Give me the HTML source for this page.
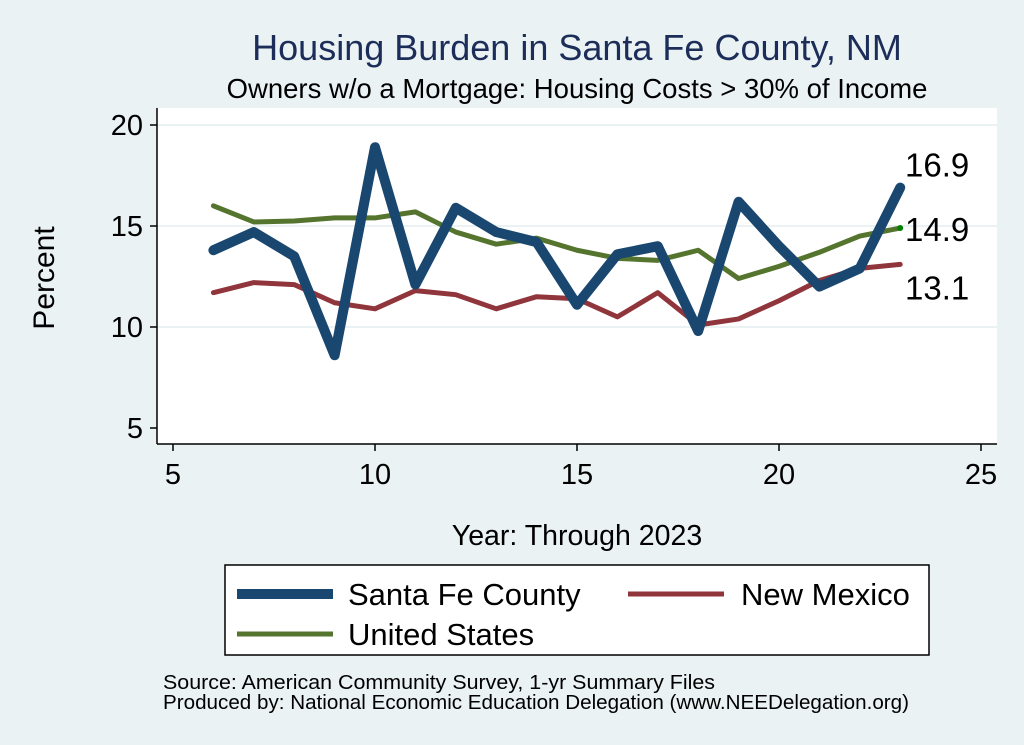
<!DOCTYPE html>
<html><head><meta charset="utf-8"><style>
body{margin:0;background:#eaf2f3;}
svg{display:block;font-family:"Liberation Sans",Arial,sans-serif;}
</style></head><body>
<svg id="chart" width="1024" height="745">
<rect width="1024" height="745" fill="#eaf2f3"/>
<text x="577" y="60" text-anchor="middle" font-size="36" fill="#1c2d59">Housing Burden in Santa Fe County, NM</text>
<text x="577" y="98" text-anchor="middle" font-size="27.5" fill="#000">Owners w/o a Mortgage: Housing Costs &gt; 30% of Income</text>
<rect x="157" y="108" width="840" height="336" fill="#fff"/>
<g id="grid"></g><g id="axes"></g><g id="series"></g><g id="labels"></g>
<text transform="translate(54,278) rotate(-90)" text-anchor="middle" font-size="30">Percent</text>
<text x="577" y="545" text-anchor="middle" font-size="28.5">Year: Through 2023</text>
<g>
<rect x="225" y="565" width="704" height="90" fill="#fff" stroke="#000" stroke-width="1.5"/>
<line x1="237" y1="594" x2="333" y2="594" stroke="#1a476f" stroke-width="10"/>
<text x="348" y="605" font-size="31">Santa Fe County</text>
<line x1="628" y1="594" x2="724" y2="594" stroke="#90353b" stroke-width="5"/>
<text x="741" y="605" font-size="31">New Mexico</text>
<line x1="237" y1="634" x2="333" y2="634" stroke="#55752f" stroke-width="5"/>
<text x="348" y="645" font-size="31">United States</text>
</g>
<text x="163" y="689" font-size="20.5" textLength="552" lengthAdjust="spacingAndGlyphs">Source: American Community Survey, 1-yr Summary Files</text>
<text x="163" y="709" font-size="20.5" textLength="746" lengthAdjust="spacingAndGlyphs">Produced by: National Economic Education Delegation (www.NEEDelegation.org)</text>
</svg>
<script>
const years=[6,7,8,9,10,11,12,13,14,15,16,17,18,19,20,21,22,23];
const santaFe=[13.8,14.7,13.5,8.6,18.9,12.1,15.9,14.7,14.2,11.1,13.6,14.0,9.8,16.2,14.0,12.0,12.9,16.9];
const newMexico=[11.7,12.2,12.1,11.2,10.9,11.8,11.6,10.9,11.5,11.4,10.5,11.7,10.1,10.4,11.3,12.3,12.9,13.1];
const unitedStates=[16.0,15.2,15.25,15.4,15.4,15.7,14.7,14.1,14.4,13.8,13.4,13.3,13.8,12.4,13.0,13.7,14.5,14.9];
const xTicks=[5,10,15,20,25];
const yTicks=[5,10,15,20];
const endLabels=["16.9","14.9","13.1"];
const NS="http://www.w3.org/2000/svg";
const xs=v=>173+(v-5)*(981-173)/20;
const ys=v=>428-(v-5)*(428-125)/15;
function mk(t,a,p){const e=document.createElementNS(NS,t);for(const k in a)e.setAttribute(k,a[k]);p.appendChild(e);return e;}
const grid=document.getElementById('grid'),axes=document.getElementById('axes'),ser=document.getElementById('series'),lab=document.getElementById('labels');
yTicks.forEach(v=>{
 if(v>5){const g=mk('line',{x1:157,x2:997,y1:ys(v),y2:ys(v),stroke:'#eaf2f3','stroke-width':2},grid);
 
 }
 const t=mk('line',{x1:150,x2:157,y1:ys(v),y2:ys(v),stroke:'#000','stroke-width':1.5},axes);
 
 
 const l=mk('text',{x:143,y:ys(v)+10,'text-anchor':'end','font-size':29},axes);l.textContent=v;
 
 
});
xTicks.forEach(v=>{
 const t=mk('line',{x1:xs(v),x2:xs(v),y1:444,y2:451,stroke:'#000','stroke-width':1.5},axes);
 
 
 const l=mk('text',{x:xs(v),y:484,'text-anchor':'middle','font-size':29},axes);l.textContent=v;
 
 
});
const ya=mk('line',{x1:157,x2:157,y1:108,y2:444,stroke:'#000','stroke-width':1.5},axes);


const xa=mk('line',{x1:157,x2:997,y1:444,y2:444,stroke:'#000','stroke-width':1.5},axes);


function line(vals,col,w,name){
 const d=vals.map((v,i)=>(i?'L':'M')+xs(years[i])+','+ys(v)).join(' ');
 const p=mk('path',{d:d,fill:'none',stroke:col,'stroke-width':w,'stroke-linejoin':'round','stroke-linecap':'round'},ser);
 
 
}
line(newMexico,'#90353b',5,'new-mexico-line');
line(unitedStates,'#55752f',5,'united-states-line');
line(santaFe,'#1a476f',10,'santa-fe-line');
const last=years.length-1;
const dot=mk('circle',{cx:xs(years[last]),cy:ys(unitedStates[last]),r:3,fill:'#008000'},ser);


[[santaFe,-11],[unitedStates,13],[newMexico,35]].forEach((s,i)=>{
 const t=mk('text',{x:905,y:ys(s[0][last])+s[1],'font-size':33},lab);t.textContent=endLabels[i];
 
 
});
</script>
</body></html>
